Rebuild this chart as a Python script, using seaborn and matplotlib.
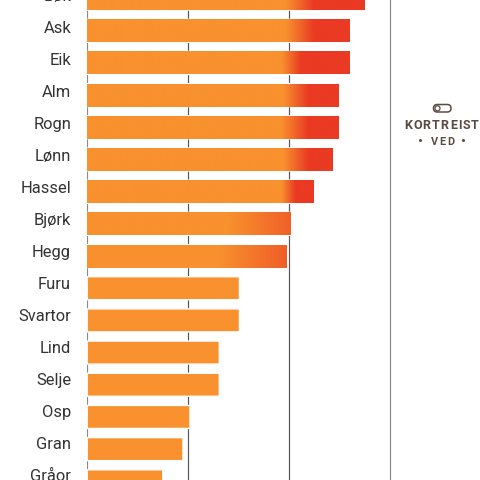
import numpy as np
import seaborn as sns
import matplotlib.pyplot as plt
from matplotlib.colors import LinearSegmentedColormap
from matplotlib.patches import FancyBboxPatch
from matplotlib.transforms import ScaledTranslation

# wood types, first and last are cut off by the crop
names = ["Bøk", "Ask", "Eik", "Alm", "Rogn", "Lønn", "Hassel", "Bjørk", "Hegg",
         "Furu", "Svartor", "Lind", "Selje", "Osp", "Gran", "Gråor"]
values = [2.75, 2.60, 2.60, 2.50, 2.50, 2.44, 2.25, 2.02, 1.98,
          1.51, 1.51, 1.31, 1.31, 1.02, 0.95, 0.75]

# where the orange starts turning red on each bar
fade_start = [1.97, 1.97, 1.93, 1.95, 1.93, 1.95, 1.93, 1.40, 1.30]
fade_end = [2.25, 2.25, 2.12, 2.20, 2.20, 2.20, 2.07, 2.50, 2.45]

ORANGE = "#F8912E"
RED = "#EA3A23"
BROWN = "#5A4A42"

sns.set_style("white")
plt.rcParams["font.family"] = ["Roboto", "DejaVu Sans"]

fig = plt.figure(figsize=(4.8, 4.8), dpi=100)
# axes are taller than the figure: the reference is a crop of a longer chart,
# and ticks outside the view limits would lose their labels
ax = fig.add_axes([87.2 / 480, -48 / 480, 392.8 / 480, 576 / 480])

sns.barplot(x=values, y=names, color=ORANGE, saturation=1, width=0.715,
            orient="h", ax=ax)

# gradient on the long bars, clipped to the bar itself
cmap = LinearSegmentedColormap.from_list("fade", [ORANGE, RED])
for bar, start, end in zip(ax.patches, fade_start, fade_end):
    x1 = bar.get_width()
    xs = np.linspace(0, x1, 300)
    t = np.clip((xs - start) / (end - start), 0, 1)
    im = ax.imshow(t[None, :], cmap=cmap, vmin=0, vmax=1, aspect="auto",
                   extent=(0, x1, bar.get_y() + bar.get_height(), bar.get_y()),
                   zorder=3)
    im.set_clip_path(bar)

# no pixel snapping, it moved the plain bars one px right of the faded ones
for bar in ax.patches:
    bar.set_snap(False)

# one unit is 100.8 px across, one row is 32.18 px down
ax.set_xlim(0, 392.8 / 100.8)
ax.set_ylim((528 + 1.4) / 32.18, (-48 + 1.4) / 32.18)

ax.set_xticks([0, 1, 2, 3])
ax.set_xticklabels([])
ax.set_xlabel("")
ax.set_ylabel("")
ax.grid(axis="x", color="#555555", linewidth=0.85)
ax.set_axisbelow(True)
ax.get_xgridlines()[0].set_color("#888888")
ax.get_xgridlines()[3].set_color("#888888")
sns.despine(ax=ax, left=True, bottom=True, top=True, right=True)

ax.tick_params(axis="x", length=0)
ax.tick_params(axis="y", length=0, pad=11.6, labelsize=11.9, labelcolor="#333333")
# labels sit above their bars and drift a little further up going down
for i, lab in enumerate(ax.get_yticklabels()):
    up = ScaledTranslation(0, (4 + 0.17 * (i - 1)) / 100, fig.dpi_scale_trans)
    lab.set_transform(lab.get_transform() + up)

# little logo on the right
s = 1 / 480
fig.add_artist(FancyBboxPatch((433.5 * s, 1 - 112 * s), 17.5 * s, 7.5 * s,
                              boxstyle="round,pad=0,rounding_size=0.0078",
                              transform=fig.transFigure, fc="white", ec=BROWN, lw=1.1))
fig.add_artist(FancyBboxPatch((435 * s, 1 - 110.8 * s), 5 * s, 5 * s,
                              boxstyle="round,pad=0,rounding_size=0.005",
                              transform=fig.transFigure, fc="white", ec=BROWN, lw=0.9))


def spaced(txt, cx, cy, size, gap):
    # matplotlib has no letter spacing, so place the letters one at a time
    rend = fig.canvas.get_renderer()
    parts = [fig.text(0, cy * s, c, fontsize=size, fontweight="bold", color=BROWN,
                      va="center", ha="left") for c in txt]
    widths = [p.get_window_extent(rend).width for p in parts]
    x = cx - (sum(widths) + gap * (len(txt) - 1)) / 2
    for p, w in zip(parts, widths):
        p.set_x(x * s)
        x += w + gap


spaced("KORTREIST", 441.5, 480 - 125.5, 9.0, 1.1)
spaced("VED", 442.5, 480 - 142, 7.8, 1.3)
for dot_x in [421, 464]:
    fig.text(dot_x * s, 1 - 142 * s, "•", fontsize=11, color=BROWN, ha="center", va="center")

fig.savefig("out.png", dpi=100)
